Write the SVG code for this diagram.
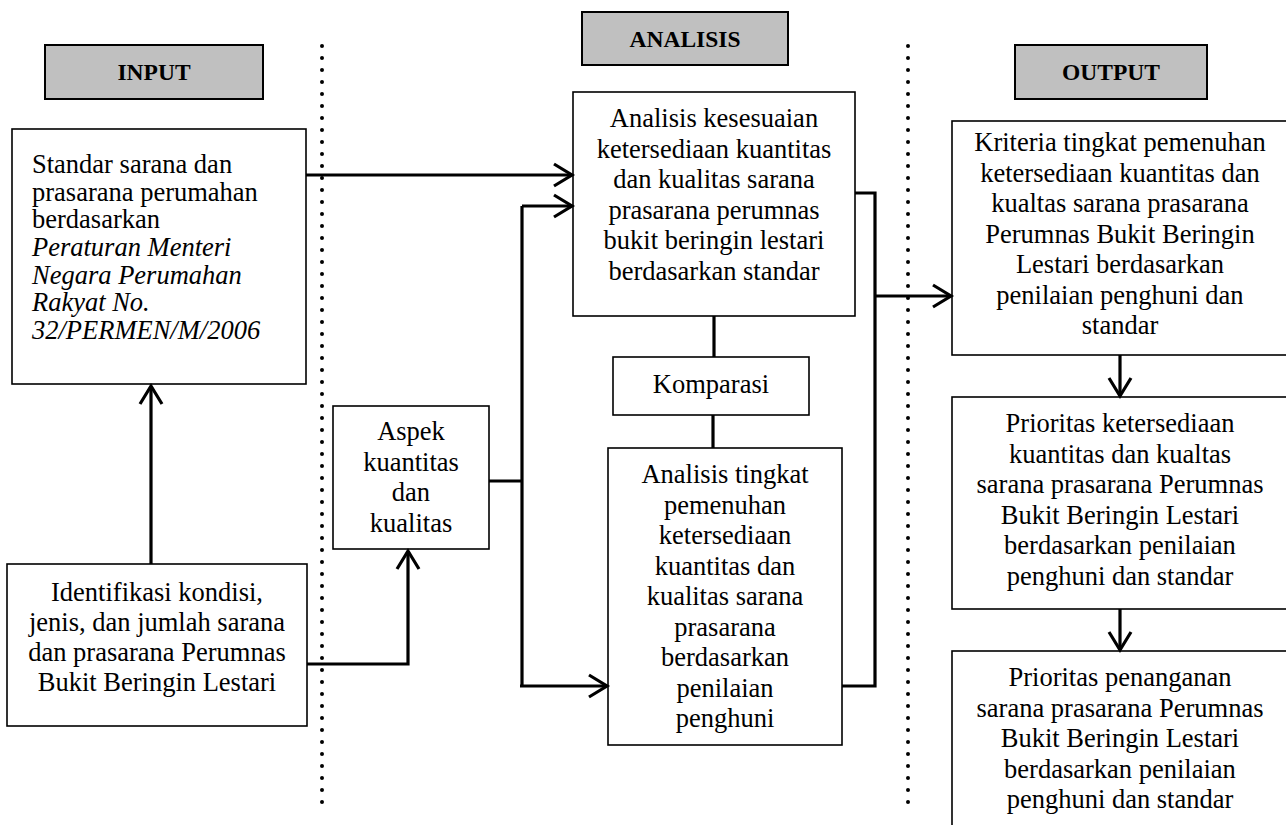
<svg xmlns="http://www.w3.org/2000/svg" width="1286" height="825" viewBox="0 0 1286 825">
<style>
.bx{fill:#fff;stroke:#000;stroke-width:1.6}
.hd{fill:#c0c0c0;stroke:#000;stroke-width:2}
.t{font-family:"Liberation Serif","Times New Roman",serif;font-size:26.5px;fill:#000}
.c{text-anchor:middle}
.h{font-family:"Liberation Serif","Times New Roman",serif;font-size:23.5px;font-weight:bold;text-anchor:middle;fill:#000}
.ln{fill:none;stroke:#000;stroke-width:3.2}
.ar{marker-end:url(#arr)}
.dot{stroke:#000;stroke-width:4;stroke-linecap:round;stroke-dasharray:0 12}
</style>
<defs>
<marker id="arr" markerUnits="userSpaceOnUse" markerWidth="24" markerHeight="26" viewBox="0 0 24 26" refX="20" refY="13" orient="auto">
<path d="M2,2 L20,13 L2,24" fill="none" stroke="#000" stroke-width="3.2"/>
</marker>
</defs>
<rect width="1286" height="825" fill="#fff"/>
<g id="dividers">
<line class="dot" x1="322" y1="46" x2="322" y2="806"/>
<line class="dot" x1="908" y1="46" x2="908" y2="806"/>
</g>
<g id="hdr-input"><rect class="hd" x="45" y="45" width="218" height="54"/><text class="h" x="154" y="80">INPUT</text></g>
<g id="hdr-analisis"><rect class="hd" x="582" y="12" width="206" height="53"/><text class="h" x="685" y="47">ANALISIS</text></g>
<g id="hdr-output"><rect class="hd" x="1015" y="45" width="192" height="54"/><text class="h" x="1111" y="80">OUTPUT</text></g>
<g id="standar">
<rect class="bx" x="12" y="129" width="294" height="255"/>
<text class="t" x="32" y="173">Standar sarana dan</text>
<text class="t" x="32" y="200.5">prasarana perumahan</text>
<text class="t" x="32" y="228">berdasarkan</text>
<text class="t" x="32" y="256" font-style="italic">Peraturan Menteri</text>
<text class="t" x="32" y="283.5" font-style="italic">Negara Perumahan</text>
<text class="t" x="32" y="311" font-style="italic">Rakyat No.</text>
<text class="t" x="32" y="338.5" font-style="italic">32/PERMEN/M/2006</text>
</g>
<g id="identifikasi">
<rect class="bx" x="7" y="564" width="300" height="162"/>
<text class="t c" x="157" y="601">Identifikasi kondisi,</text>
<text class="t c" x="157" y="631">jenis, dan jumlah sarana</text>
<text class="t c" x="157" y="661">dan prasarana Perumnas</text>
<text class="t c" x="157" y="691">Bukit Beringin Lestari</text>
</g>
<g id="aspek">
<rect class="bx" x="333" y="406" width="156" height="143"/>
<text class="t c" x="411" y="440">Aspek</text>
<text class="t c" x="411" y="471">kuantitas</text>
<text class="t c" x="411" y="501">dan</text>
<text class="t c" x="411" y="532">kualitas</text>
</g>
<g id="analisis1">
<rect class="bx" x="573" y="92" width="282" height="224"/>
<text class="t c" x="714" y="127">Analisis kesesuaian</text>
<text class="t c" x="714" y="157.5">ketersediaan kuantitas</text>
<text class="t c" x="714" y="188">dan kualitas sarana</text>
<text class="t c" x="714" y="218.5">prasarana perumnas</text>
<text class="t c" x="714" y="249">bukit beringin lestari</text>
<text class="t c" x="714" y="279.5">berdasarkan standar</text>
</g>
<g id="komparasi">
<rect class="bx" x="613" y="357" width="196" height="58"/>
<text class="t c" x="711" y="393">Komparasi</text>
</g>
<g id="analisis2">
<rect class="bx" x="608" y="448" width="234" height="297"/>
<text class="t c" x="725" y="483">Analisis tingkat</text>
<text class="t c" x="725" y="513.5">pemenuhan</text>
<text class="t c" x="725" y="544">ketersediaan</text>
<text class="t c" x="725" y="574.5">kuantitas dan</text>
<text class="t c" x="725" y="605">kualitas sarana</text>
<text class="t c" x="725" y="635.5">prasarana</text>
<text class="t c" x="725" y="666">berdasarkan</text>
<text class="t c" x="725" y="696.5">penilaian</text>
<text class="t c" x="725" y="727">penghuni</text>
</g>
<g id="kriteria">
<rect class="bx" x="952" y="121" width="337" height="234"/>
<text class="t c" x="1120" y="151">Kriteria tingkat pemenuhan</text>
<text class="t c" x="1120" y="181.5">ketersediaan kuantitas dan</text>
<text class="t c" x="1120" y="212">kualtas sarana prasarana</text>
<text class="t c" x="1120" y="242.5">Perumnas Bukit Beringin</text>
<text class="t c" x="1120" y="273">Lestari berdasarkan</text>
<text class="t c" x="1120" y="303.5">penilaian penghuni dan</text>
<text class="t c" x="1120" y="334">standar</text>
</g>
<g id="prioritas1">
<rect class="bx" x="952" y="397" width="337" height="212"/>
<text class="t c" x="1120" y="432">Prioritas ketersediaan</text>
<text class="t c" x="1120" y="462.5">kuantitas dan kualtas</text>
<text class="t c" x="1120" y="493">sarana prasarana Perumnas</text>
<text class="t c" x="1120" y="523.5">Bukit Beringin Lestari</text>
<text class="t c" x="1120" y="554">berdasarkan penilaian</text>
<text class="t c" x="1120" y="584.5">penghuni dan standar</text>
</g>
<g id="prioritas2">
<rect class="bx" x="952" y="651" width="337" height="200"/>
<text class="t c" x="1120" y="686">Prioritas penanganan</text>
<text class="t c" x="1120" y="716.5">sarana prasarana Perumnas</text>
<text class="t c" x="1120" y="747">Bukit Beringin Lestari</text>
<text class="t c" x="1120" y="777.5">berdasarkan penilaian</text>
<text class="t c" x="1120" y="808">penghuni dan standar</text>
</g>
<g id="connectors">
<path class="ln ar" d="M306,175 H572"/>
<path class="ln ar" d="M151,564 V386"/>
<path class="ln ar" d="M307,664 H408 V551"/>
<path class="ln" d="M489,481 H522"/>
<path class="ln" d="M522,206 V686"/>
<path class="ln ar" d="M522,206 H572"/>
<path class="ln ar" d="M520,686 H607"/>
<path class="ln" d="M714,316 V357"/>
<path class="ln" d="M713,415 V448"/>
<path class="ln" d="M855,193 H875 V686 H842"/>
<path class="ln ar" d="M875,296 H951"/>
<path class="ln ar" d="M1120,355 V396"/>
<path class="ln ar" d="M1120,609 V650"/>
</g>
</svg>
